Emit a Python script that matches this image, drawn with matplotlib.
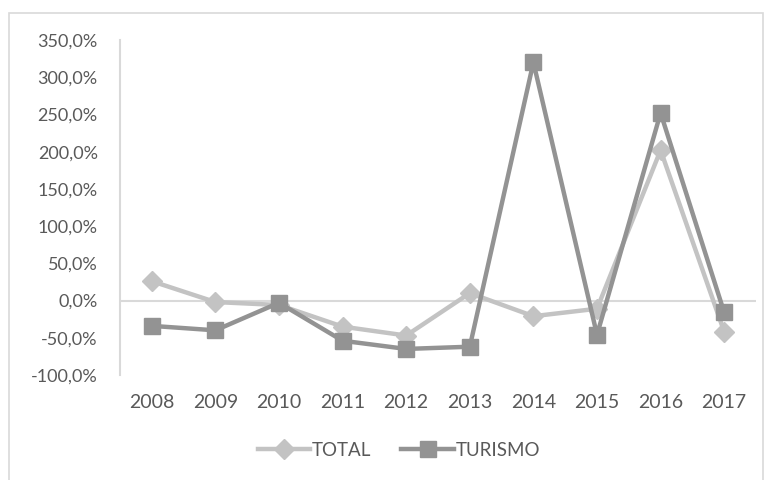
import matplotlib
matplotlib.use("Agg")
import matplotlib.pyplot as plt
from matplotlib.patches import Rectangle
from matplotlib.ticker import FuncFormatter

years = ["2008", "2009", "2010", "2011", "2012", "2013", "2014", "2015", "2016", "2017"]
total = [26, -2, -6, -35, -47, 10, -21, -11, 202, -42]
turismo = [-34, -40, -3, -54, -65, -62, 320, -46, 252, -16]

plt.rcParams['font.family'] = ['Lato', 'DejaVu Sans']
label_color = '#595959'
axis_color = '#D9D9D9'

fig = plt.figure(figsize=(7.7, 4.8), dpi=100)
W, H = 770, 480
ax = fig.add_axes([120 / W, 1 - 375 / H, (756 - 120) / W, (375 - 40) / H])

x = list(range(len(years)))
ax.plot(x, total, color='#C3C3C3', lw=3.2, marker='D', ms=10, label='TOTAL', zorder=3)
ax.plot(x, turismo, color='#939393', lw=3.2, marker='s', ms=12, label='TURISMO', zorder=4)

ax.set_xlim(-0.5, len(years) - 0.5)
ax.set_ylim(-100, 350)
ax.set_yticks(range(-100, 351, 50))
ax.yaxis.set_major_formatter(FuncFormatter(lambda v, p: f"{v:.1f}%".replace('.', ',')))
ax.set_xticks(x)
ax.set_xticklabels(years)

for s in ['top', 'right', 'bottom']:
    ax.spines[s].set_visible(False)
ax.spines['left'].set_color(axis_color)
ax.spines['left'].set_linewidth(1.5)
ax.axhline(0, color=axis_color, lw=1.5, zorder=1)

ax.tick_params(axis='y', length=0, pad=16, labelsize=13, labelcolor=label_color)
ax.tick_params(axis='x', length=0, pad=14, labelsize=14, labelcolor=label_color)

leg = fig.legend(loc='center', bbox_to_anchor=(399 / W, 1 - 450 / H), ncol=2,
                 frameon=False, fontsize=13.5, handlelength=2.8, columnspacing=1.6,
                 handletextpad=0.1, labelcolor=label_color)

fig.patches.append(Rectangle((9 / W, -0.01), (763 - 9) / W, 1 - 13 / H + 0.01,
                             transform=fig.transFigure, fill=False,
                             edgecolor=axis_color, lw=1.2))

fig.savefig('out.png', dpi=100)
